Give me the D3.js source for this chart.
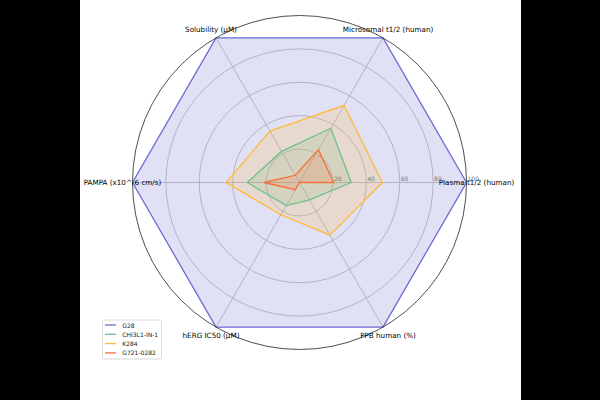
<!DOCTYPE html>
<html>
<head>
<meta charset="utf-8">
<script src="https://cdn.jsdelivr.net/npm/d3@7"></script>
<style>
  html, body { margin: 0; padding: 0; background: #000; }
  svg { display: block; }
  text { font-family: "DejaVu Sans", sans-serif; }
</style>
</head>
<body>
<script>
const axesLabels = ["Plasma t1/2 (human)", "Microsomal t1/2 (human)", "Solubility (\u03bcM)", "PAMPA (x10^-6 cm/s)", "hERG IC50 (\u03bcM)", "PPB human (%)"];
const seriesNames = ["G28", "CHI3L1-IN-1", "K284", "G721-0282"];
const seriesColors = ["#6a6ad0", "#6cc08c", "#ffba3a", "#f4713a"];
const valuesG28 = [100, 100, 100, 100, 100, 100];
const valuesCHI = [31, 37.5, 21.5, 31.3, 16, 12];
const valuesK284 = [49.6, 53.4, 35.5, 44, 22.3, 36.4];
const valuesG721 = [20.5, 22.7, 5, 21.3, 5, 0];
const tickValues = [20, 40, 60, 80, 100];

const W = 600, H = 400;
const cx = 299.5, cy = 182.5, R = 167;

const svg = d3.select("body").append("svg").attr("width", W).attr("height", H);
svg.append("rect").attr("x", 80).attr("y", 0).attr("width", 441).attr("height", H).attr("fill", "#fff");

const g = svg.append("g").attr("transform", `translate(${cx},${cy})`);
const r = d3.scaleLinear().domain([0, 100]).range([0, R]);
const angle = d3.scaleLinear().domain([0, axesLabels.length]).range([0, 2 * Math.PI]);
const pt = (i, v) => [r(v) * Math.cos(angle(i)), -r(v) * Math.sin(angle(i))];

// grid circles
g.selectAll("circle.grid").data(tickValues.slice(0, 4)).join("circle")
  .attr("r", d => r(d)).attr("fill", "none").attr("stroke", "#b8b8b8").attr("stroke-width", 0.8);
// radial lines
g.selectAll("line.spoke").data(axesLabels).join("line")
  .attr("x1", 0).attr("y1", 0)
  .attr("x2", (d, i) => pt(i, 100)[0]).attr("y2", (d, i) => pt(i, 100)[1])
  .attr("stroke", "#b8b8b8").attr("stroke-width", 0.8);

// series
const allSeries = [valuesG28, valuesCHI, valuesK284, valuesG721];
const line = d3.line().curve(d3.curveLinearClosed);
allSeries.forEach((vals, si) => {
  const pts = vals.map((v, i) => pt(i, v));
  g.append("path").attr("d", line(pts))
    .attr("fill", seriesColors[si]).attr("fill-opacity", 0.2)
    .attr("stroke", "none");
});
allSeries.forEach((vals, si) => {
  const pts = vals.map((v, i) => pt(i, v));
  g.append("path").attr("d", line(pts))
    .attr("fill", "none").attr("stroke", seriesColors[si]).attr("stroke-width", 1.3)
    .attr("stroke-linejoin", "miter");
});

// outer spine circle
g.append("circle").attr("r", r(100)).attr("fill", "none").attr("stroke", "#222").attr("stroke-width", 0.8);

// radial tick labels
g.selectAll("text.tick").data(tickValues).join("text")
  .attr("x", d => r(d) + 1).attr("y", -1.5)
  .attr("font-size", 6).attr("fill", "#777")
  .text(d => d);

// axis labels
g.selectAll("text.axis").data(axesLabels).join("text")
  .attr("x", (d, i) => (R + 10) * Math.cos(angle(i)))
  .attr("y", (d, i) => -(R + 10) * Math.sin(angle(i)))
  .attr("text-anchor", "middle").attr("dominant-baseline", "central")
  .attr("font-size", 7.2).attr("fill", "#000")
  .text(d => d);

// legend
const lg = svg.append("g").attr("transform", "translate(102.5,320)");
lg.append("rect").attr("width", 59).attr("height", 39).attr("rx", 1.5)
  .attr("fill", "#fff").attr("fill-opacity", 0.8).attr("stroke", "#d0d0d0").attr("stroke-width", 0.8);
seriesNames.forEach((name, i) => {
  const y = 5 + i * 9.3;
  lg.append("line").attr("x1", 2.5).attr("x2", 13.5).attr("y1", y).attr("y2", y)
    .attr("stroke", seriesColors[i]).attr("stroke-width", 1.3);
  lg.append("text").attr("x", 19.8).attr("y", y).attr("dominant-baseline", "central")
    .attr("font-size", 6).attr("fill", "#222").text(name);
});
</script>
</body>
</html>
